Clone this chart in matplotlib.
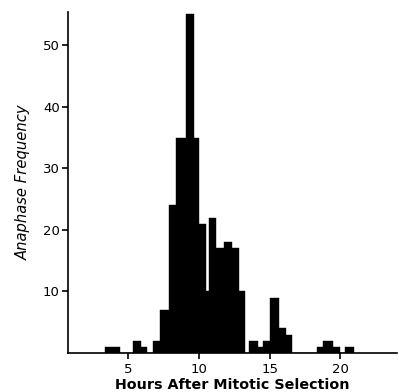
import numpy as np
import matplotlib
matplotlib.use('Agg')
import matplotlib.pyplot as plt

# bin edges (hours after mitotic selection) and anaphase counts per bin
binEdges = [3.35, 4.4, 5.35, 5.9, 6.35, 6.75, 7.25, 7.9, 8.4, 9.1, 9.65, 10.0,
            10.5, 10.7, 11.25, 11.8, 12.35, 12.85, 13.25, 13.55, 14.15, 14.5,
            15.05, 15.7, 16.15, 16.6, 18.35, 18.75, 19.45, 19.95, 20.35, 20.95]
counts = [1, 0, 2, 1, 0, 2, 7, 24, 35, 55, 35, 21,
          10, 22, 17, 18, 17, 10, 0, 2, 1,
          2, 9, 4, 3, 0, 1, 2, 1, 0, 1]

xTicks = [5, 10, 15, 20]
yTicks = [10, 20, 30, 40, 50]

fig = plt.figure(figsize=(3.99, 3.92), dpi=100)
ax = fig.add_axes([0.1704, 0.0995, 0.8246, 0.8699])

edges = np.asarray(binEdges)
ax.bar(edges[:-1], counts, width=np.diff(edges), align='edge',
       color='black', edgecolor='black', linewidth=0.3)

ax.set_xlim(0.76, 24.0)
ax.set_ylim(0, 55.4)
ax.set_xticks(xTicks)
ax.set_yticks(yTicks)

for s in ['top', 'right']:
    ax.spines[s].set_visible(False)
for s in ['left', 'bottom']:
    ax.spines[s].set_linewidth(1.2)

ax.tick_params(axis='both', direction='out', length=4, width=1.2,
               labelsize=9.5, pad=2)
ax.tick_params(axis='x', pad=3)

ax.set_xlabel('Hours After Mitotic Selection', fontsize=10.3, fontweight='bold', labelpad=2)
ax.set_ylabel('Anaphase Frequency', fontsize=10.6, fontstyle='italic', labelpad=9)

fig.savefig('out.png', dpi=100)
